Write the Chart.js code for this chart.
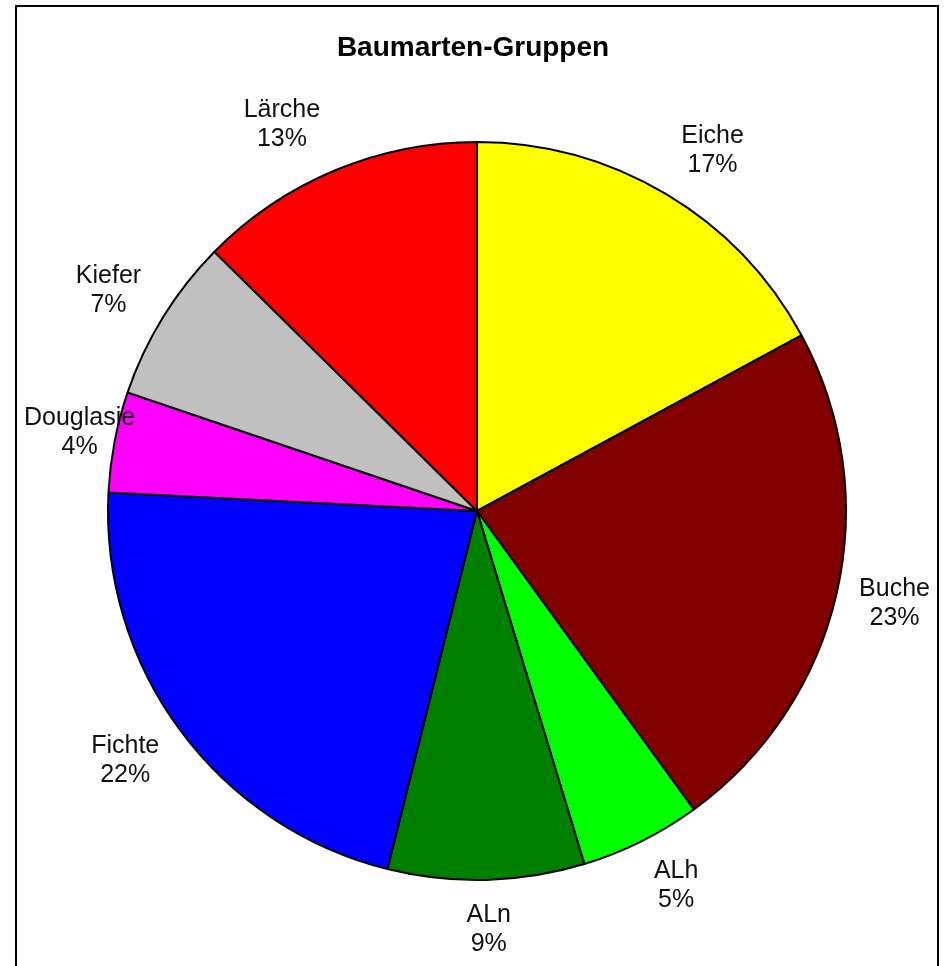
<!DOCTYPE html>
<html>
<head>
<meta charset="utf-8">
<script src="https://cdn.jsdelivr.net/npm/chart.js@4.4.0/dist/chart.umd.min.js"></script>
<style>
  html, body { margin: 0; padding: 0; background: #fff; }
  #chart { display: block; }
</style>
</head>
<body>
<canvas id="chart" width="944" height="966"></canvas>
<script>
const chartTitle = "Baumarten-Gruppen";
const species = ["Eiche", "Buche", "ALh", "ALn", "Fichte", "Douglasie", "Kiefer", "Lärche"];
const shares = [17.1, 22.9, 5.3, 8.6, 21.9, 4.4, 7.2, 12.6];
const colors = ["#ffff00", "#800000", "#00ff00", "#008000", "#0000ff", "#ff00ff", "#c0c0c0", "#ff0000"];

const labelFont = '25px "Liberation Sans", Arial, sans-serif';

// rahmen, titel und beschriftung aussen am kreis
const decorations = {
  id: "decorations",
  beforeDraw(chart) {
    const ctx = chart.ctx;
    ctx.save();
    ctx.fillStyle = "#fff";
    ctx.fillRect(0, 0, chart.width, chart.height);
    ctx.strokeStyle = "#000";
    ctx.lineWidth = 2;
    ctx.strokeRect(16, 6, 922, 980);
    ctx.fillStyle = "#000";
    ctx.font = 'bold 28px "Liberation Sans", Arial, sans-serif';
    ctx.textAlign = "center";
    ctx.textBaseline = "middle";
    ctx.fillText(chartTitle, 473, 48);
    ctx.restore();
  },
  afterDatasetsDraw(chart) {
    const ctx = chart.ctx;
    const arcs = chart.getDatasetMeta(0).data;
    const total = shares.reduce((a, b) => a + b, 0);
    ctx.save();
    ctx.font = labelFont;
    ctx.fillStyle = "#111";
    ctx.textAlign = "center";
    ctx.textBaseline = "middle";
    arcs.forEach((arc, i) => {
      const mid = (arc.startAngle + arc.endAngle) / 2;
      const dx = Math.cos(mid);
      const dy = Math.sin(mid);
      const lines = [species[i], Math.round(shares[i] / total * 100) + "%"];
      const w = Math.max(...lines.map(t => ctx.measureText(t).width));
      const side = Math.max(-1, Math.min(1, dx * 3));
      let x = arc.x + dx * (arc.outerRadius + 18) + side * w * 0.6;
      let y = arc.y + dy * (arc.outerRadius + 50);
      x = Math.max(24 + w / 2, Math.min(930 - w / 2, x));
      ctx.fillText(lines[0], x, y - 14.5);
      ctx.fillText(lines[1], x, y + 14.5);
    });
    ctx.restore();
  }
};

new Chart(document.getElementById("chart"), {
  type: "pie",
  data: {
    labels: species,
    datasets: [{
      data: shares,
      backgroundColor: colors,
      borderColor: "#000",
      borderWidth: 2,
      hoverOffset: 0
    }]
  },
  options: {
    responsive: false,
    animation: false,
    events: [],
    layout: { padding: { left: 107, right: 97, top: 141, bottom: 85 } },
    plugins: {
      legend: { display: false },
      tooltip: { enabled: false },
      title: { display: false }
    }
  },
  plugins: [decorations]
});
</script>
</body>
</html>
